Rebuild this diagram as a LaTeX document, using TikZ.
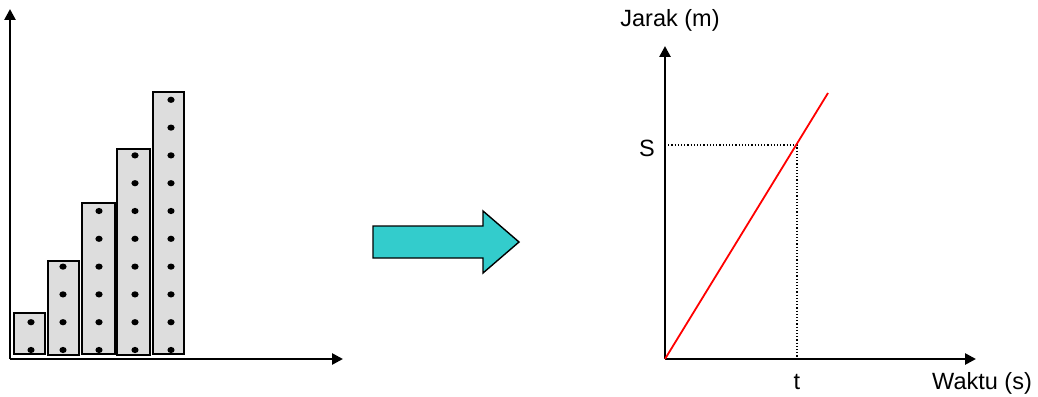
\documentclass[tikz,border=0pt]{standalone}
\usepackage{fontspec}
\setmainfont{Liberation Sans}
\usetikzlibrary{arrows.meta}
\tikzset{
  axis/.style={line width=2.6pt,-{Triangle[length=11pt,width=11pt]}},
  barbox/.style={draw=black,line width=2pt,fill=gray!27},
  bead/.style={fill=black},
  guide/.style={dotted,line width=1.2pt},
  lbl/.style={font=\fontsize{23.5}{28}\selectfont,inner sep=0pt}
}
\begin{document}
\begin{tikzpicture}[x=1pt,y=-1pt]
\useasboundingbox (0,0) rectangle (1038,396);
% left chart: bars of dots
\coordinate (O1) at (10,359);
\coordinate (Y1) at (10,9);
\coordinate (X1) at (343,359);
\foreach \xl/\xr/\ytop/\ybot/\xd/\n in {14/45/313/354/31/2, 48/79/261/355/63/4,
  82/115/203/354/99/6, 117/150/149/355/135/8, 153/184/92/354/171/10}{
  \draw[barbox] (\xl,\ytop) rectangle (\xr,\ybot);
  \foreach \k in {1,...,\n}
    \fill[bead] (\xd,{350-(\k-1)*27.8}) ellipse (3.6pt and 3.1pt);
}
\draw[axis] (O1) -- (Y1);
\draw[axis] (O1) -- (X1);
% big arrow in the middle
\draw[fill={rgb,255:red,51;green,204;blue,204},line width=1.4pt,line join=miter]
  (373,226) -- (483,226) -- (483,211) -- (519,242) -- (483,273) -- (483,258)
  -- (373,258) -- cycle;
% right chart: distance against time
\coordinate (O2) at (665,359);
\coordinate (Y2) at (665,46);
\coordinate (X2) at (976,359);
\coordinate (P) at (797,145);
\coordinate (Pend) at (828,93);
\draw[axis] (O2) -- (Y2);
\draw[axis] (O2) -- (X2);
\draw[guide] (P -| O2) -- (P) -- (P |- O2);
\draw[red,line width=1.8pt] (O2) -- (Pend);
\node[lbl] (jarak) at (670,20) {Jarak (m)};
\node[lbl] (s) at (647,148) {S};
\node[lbl] (t) at (797,382) {t};
\node[lbl] (waktu) at (982,383) {Waktu (s)};
\end{tikzpicture}
\end{document}
